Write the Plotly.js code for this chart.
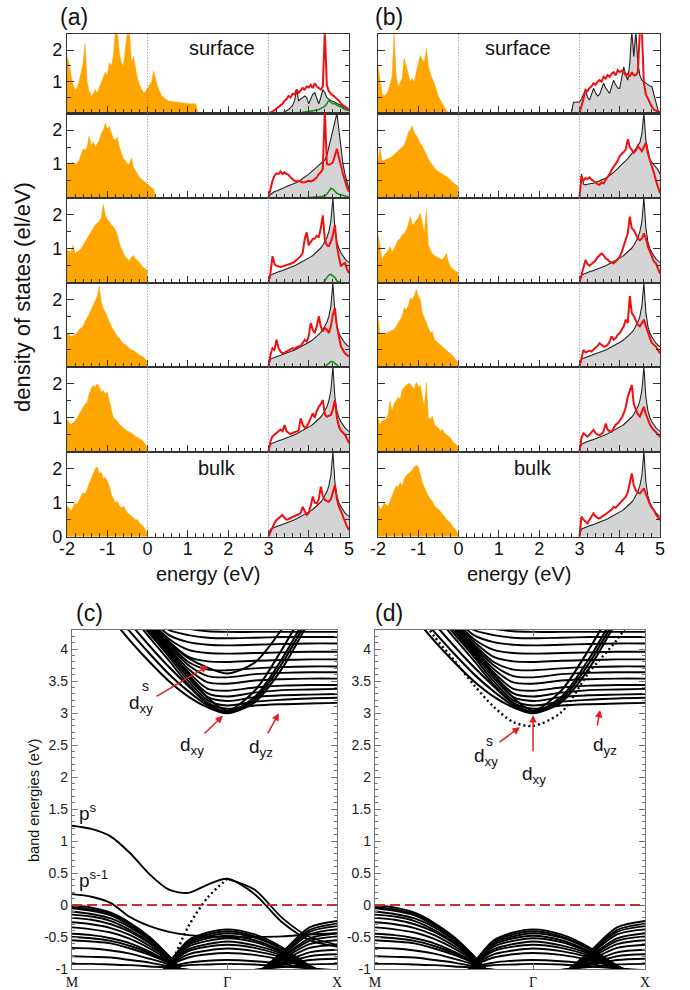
<!DOCTYPE html>
<html><head><meta charset="utf-8">
<script src="https://cdn.plot.ly/plotly-3.0.1.min.js"></script>
<style>html,body{margin:0;padding:0;background:#fff}#chart{width:690px;height:990px}</style>
</head><body><div id="chart"></div>
<script>
// ================= DATA =================
function grid(a,b,s){const n=Math.round((b-a)/s);return Array.from({length:n+1},(_,i)=>+(a+i*s).toFixed(3));}
const eVal   = grid(-2,0,0.05);     // valence grid
const eValA1 = grid(-2,1.25,0.05);  // (a) surface valence grid
const eValA2 = grid(-2,0.2,0.05);   // (a) S-1 valence grid
const eCond  = grid(3,5,0.05);      // conduction grid
const eCondB1= grid(2.8,5,0.05);    // (b) surface conduction grid
const gapEdges = [0,3];
const energyTicks = [-2,-1,0,1,2,3,4,5];

// ---- (a) orange valence DOS ----
const orangeA1=[1.8,1.6,1.2,0.9,0.75,0.8,1.0,1.3,1.6,2.2,
 1.0,0.7,0.55,0.6,0.75,0.65,0.8,1.0,1.1,1.3,
 1.2,1.6,1.5,1.8,2.6,2.6,1.9,1.6,1.5,2.0,
 2.6,2.6,1.6,1.8,1.4,1.1,0.9,0.75,0.65,0.7,
 0.8,0.9,1.0,1.35,1.1,0.85,0.7,0.55,0.5,0.45,
 0.4,0.38,0.37,0.36,0.35,0.34,0.33,0.32,0.32,0.31,
 0.31,0.3,0.3,0.3,0.3,0];
const orangeA2=[1.0,1.03,1.0,1.05,1.0,1.02,1.1,1.25,1.45,1.4,
 1.5,1.83,1.55,1.65,1.5,1.6,1.7,1.9,2.0,2.2,
 2.05,2.1,1.9,1.75,1.7,1.8,1.5,1.3,1.15,1.1,
 1.0,1.0,1.18,0.9,0.8,0.7,0.6,0.55,0.5,0.45,
 0.4,0.35,0.3,0.25,0];
const orangeA3=[0.95,0.92,0.9,1.1,0.85,0.9,0.95,1.0,1.1,1.2,
 1.3,1.4,1.5,1.6,1.7,1.75,1.8,1.9,2.3,2.0,
 1.85,1.8,1.7,1.65,1.55,1.4,1.15,1.0,0.85,0.75,
 0.7,0.65,0.75,0.8,0.7,0.65,0.6,0.5,0.45,0.4,
 0.35];
const orangeA4=[1.0,0.95,0.9,0.92,0.95,1.0,1.1,1.15,1.2,1.35,
 1.45,1.55,1.7,1.85,2.0,2.1,2.4,1.9,1.75,1.6,
 1.45,1.3,1.2,1.1,1.0,0.9,0.85,0.75,0.7,0.65,
 0.6,0.55,0.5,0.48,0.45,0.4,0.35,0.32,0.28,0.22,
 0.15];
const orangeA5=[0.95,0.85,0.8,0.85,0.9,1.0,1.1,1.2,1.3,1.4,
 1.45,1.7,1.85,1.95,1.9,2.0,1.9,1.75,1.8,1.7,
 1.75,1.5,1.2,1.0,0.95,0.9,0.8,0.75,0.7,0.65,
 0.6,0.58,0.55,0.5,0.45,0.42,0.4,0.35,0.3,0.2,
 0.1];
const orangeA6=[0.9,0.85,0.75,0.9,1.0,0.95,1.1,1.2,1.3,1.25,
 1.4,1.55,1.7,1.85,2.0,2.05,1.85,1.9,1.7,1.75,
 1.6,1.5,1.25,1.1,1.0,1.05,0.9,0.85,0.9,0.8,
 0.7,0.65,0.6,0.55,0.5,0.5,0.4,0.35,0.3,0.2,
 0.05];
// ---- (b) orange valence DOS ----
const orangeB1=[1.5,1.1,0.63,0.55,0.6,0.7,0.9,1.16,2.5,1.2,
 0.84,0.95,1.1,1.74,1.47,1.3,1.0,1.1,1.0,1.3,
 1.58,1.84,1.7,1.6,2.05,1.5,1.25,1.1,0.95,0.75,
 0.53,0.4,0.3,0.18,0.08,0.03,0,0,0,0,
 0];
const orangeB2=[1.03,1.5,1.08,1.1,1.12,1.15,1.18,1.22,1.28,1.33,
 1.38,1.45,1.5,1.55,1.7,1.93,2.0,2.13,1.9,1.85,
 1.73,1.6,1.53,1.4,1.25,1.15,1.05,0.95,0.88,0.82,
 0.77,0.73,0.7,0.66,0.63,0.58,0.52,0.46,0.42,0.36,
 0.33];
const orangeB3=[1.45,1.0,0.67,0.8,0.86,0.95,1.06,0.9,1.0,1.15,
 1.25,1.3,1.4,1.45,1.55,1.7,1.94,1.7,1.75,1.84,
 1.9,2.04,1.7,1.45,2.14,1.1,0.96,0.85,0.8,0.76,
 0.72,0.7,0.67,0.75,0.86,0.6,0.47,0.4,0.35,0.32,
 0.3];
const orangeB4=[1.5,1.0,0.95,0.98,1.0,1.02,1.05,1.08,1.1,1.2,
 1.3,1.4,1.5,1.75,1.7,1.8,2.05,2.0,2.1,2.3,
 2.1,2.0,1.6,1.45,1.3,1.15,1.0,1.05,0.8,0.75,
 0.7,0.65,0.6,0.55,0.5,0.45,0.4,0.33,0.25,0.18,
 0.1];
const orangeB5=[1.0,0.8,0.9,0.95,0.95,1.1,1.5,1.2,1.4,1.5,
 1.6,1.55,1.8,1.9,1.95,2.0,2.0,1.9,1.85,2.05,
 1.9,1.95,1.6,1.3,2.03,1.0,0.95,1.05,0.8,0.75,
 0.7,0.6,0.65,0.55,0.5,0.45,0.4,0.3,0.25,0.2,
 0.1];
const orangeB6=[1.0,0.8,0.85,1.0,0.95,0.9,1.05,1.2,1.35,1.5,
 1.45,1.6,1.5,1.7,1.8,1.85,1.9,1.95,2.05,2.1,
 2.05,1.8,1.6,1.45,1.3,1.2,1.1,1.05,0.9,0.85,
 0.8,0.75,0.65,0.6,0.5,0.45,0.4,0.3,0.25,0.15,
 0.05];

// ---- black (grey-filled) conduction DOS ----
const blackA1=[0,0,0,0,0,0,0,0.02,0.05,0.08,
 0.12,0.18,0.25,0.4,0.75,0.4,0.45,0.5,0.55,0.5,
 0.3,0.45,0.6,0.65,0.5,0.3,0.5,0.75,0.65,0.5,
 0.45,0.4,0.38,0.35,0.3,0.28,0.25,0.2,0.18,0.15,
 0.12];
const blackA2=[0.05,0.1,0.15,0.18,0.2,0.22,0.25,0.28,0.3,0.33,
 0.35,0.38,0.4,0.43,0.45,0.48,0.52,0.56,0.6,0.65,
 0.7,0.75,0.8,0.85,0.9,0.95,1.0,1.05,1.12,1.25,
 1.5,1.75,2.0,2.3,2.5,2.0,1.4,1.0,0.7,0.45,
 0.25];
const blackBulk=[0,0.22,0.25,0.28,0.3,0.32,0.34,0.36,0.38,0.4,
 0.43,0.45,0.48,0.5,0.53,0.56,0.6,0.63,0.66,0.69,
 0.72,0.76,0.8,0.85,0.9,0.95,1.02,1.1,1.2,1.32,
 1.5,1.8,2.5,1.6,1.2,1.0,0.88,0.78,0.7,0.64,
 0.6];
const blackB1=[0,0.35,0.35,0.35,
 0.36,0.45,0.6,0.74,0.5,0.42,0.6,0.79,0.65,0.55,
 0.6,0.8,0.95,0.8,0.7,0.63,0.85,1.05,0.9,0.8,
 0.79,1.1,1.47,1.2,1.05,1.6,2.6,1.8,2.6,1.6,
 1.2,1.05,1.0,0.95,0.9,0.86,0.84,0.6,0.4,0.1,
 0];
const blackB2=[0,0.7,0.4,0.38,0.4,0.42,0.42,0.43,0.45,0.47,
 0.5,0.52,0.55,0.58,0.63,0.66,0.7,0.75,0.8,0.86,
 0.93,0.98,1.03,1.1,1.16,1.23,1.3,1.38,1.45,1.55,
 1.63,1.9,2.5,1.7,1.4,1.13,1.05,0.98,0.9,0.83,
 0.7];

// ---- red conduction DOS ----
const redA1=[0,0.02,0.05,0.1,0.15,0.2,0.25,0.3,0.4,0.45,
 0.55,0.5,0.62,0.6,0.75,0.65,0.72,0.8,0.75,0.85,
 0.82,0.9,0.8,0.95,0.85,0.8,0.75,0.85,2.6,0.9,
 0.7,0.62,0.58,0.52,0.45,0.4,0.3,0.25,0.2,0.15,
 0.12];
const redA2=[0,0.3,0.5,0.65,0.72,0.7,0.78,0.7,0.75,0.7,
 0.68,0.6,0.55,0.5,0.48,0.5,0.48,0.45,0.46,0.48,
 0.5,0.48,0.5,0.55,0.6,0.7,0.75,0.85,2.6,1.0,
 0.98,1.0,1.05,1.25,1.45,1.2,0.9,0.7,0.5,0.3,
 0.18];
const redA3=[0,0.28,0.78,0.55,0.5,0.48,0.46,0.48,0.5,0.52,
 0.53,0.55,0.58,0.62,0.68,0.72,0.78,0.88,1.28,1.48,
 1.1,1.2,1.28,1.3,1.38,1.35,1.6,1.98,1.28,1.1,
 1.08,1.2,1.4,1.7,1.08,0.75,0.48,0.55,0.58,0.4,
 0.28];
const redA4=[0,0.35,0.55,0.5,0.8,0.55,0.45,0.4,0.42,0.45,
 0.48,0.5,0.55,0.52,0.58,0.6,0.62,0.7,0.8,0.75,
 0.9,1.3,1.1,1.0,1.2,1.5,1.2,1.05,1.15,1.1,
 1.0,1.2,1.55,1.75,1.2,0.9,0.6,0.5,0.4,0.35,
 0.3];
const redA5=[0,0.3,0.45,0.5,0.55,0.62,0.65,0.6,0.78,0.6,
 0.55,0.52,0.55,0.58,0.6,0.62,0.98,0.8,0.7,0.74,
 0.85,1.0,1.13,1.0,1.2,1.32,1.4,1.52,1.1,1.03,
 1.05,1.08,1.25,1.52,1.0,0.74,0.62,0.55,0.5,0.38,
 0.25];
const redA6=[0,0.15,0.3,0.4,0.49,0.55,0.6,0.64,0.55,0.5,
 0.52,0.55,0.58,0.6,0.62,0.65,0.69,0.88,0.75,0.64,
 0.7,0.9,1.18,1.0,0.98,1.1,1.47,1.2,1.08,1.05,
 1.03,1.1,1.3,1.52,1.1,0.88,0.75,0.59,0.45,0.3,
 0.2];
const redB1=[0,0.21,0.45,0.74,0.7,0.8,0.85,0.95,0.9,1.0,
 1.05,1.0,1.15,1.1,1.21,1.15,1.25,1.3,1.2,1.37,
 1.3,1.35,1.3,1.2,1.25,1.16,1.3,1.2,1.21,1.3,
 2.6,2.6,0.95,0.6,0.45,0.32,0.2,0.12,0.08,0.05,
 0.03];
const redB2=[0,0.63,0.5,0.58,0.55,0.6,0.53,0.5,0.45,0.4,
 0.38,0.45,0.42,0.53,0.6,0.7,0.83,0.9,1.0,1.1,
 1.23,1.3,1.35,1.43,1.73,1.5,1.4,1.33,1.4,1.53,
 1.45,1.38,1.5,1.63,1.3,1.13,0.95,0.73,0.5,0.3,
 0.13];
const redB3=[0,0.27,0.45,0.67,0.55,0.5,0.55,0.6,0.65,0.75,
 0.8,0.86,0.8,0.72,0.68,0.62,0.6,0.57,0.62,0.7,
 0.76,0.9,1.1,1.3,1.45,1.94,1.6,1.55,1.4,1.3,
 1.25,1.3,1.45,1.3,1.06,0.9,0.75,0.62,0.57,0.4,
 0.27];
const redB4=[0,0.3,0.5,0.42,0.45,0.48,0.45,0.5,0.55,0.62,
 0.7,0.65,0.6,0.6,0.65,0.75,0.9,0.8,0.85,0.95,
 1.0,1.1,1.2,1.4,1.3,2.1,1.6,1.5,1.35,1.25,
 1.2,1.3,1.4,1.2,1.0,0.85,0.7,0.65,0.6,0.5,
 0.4];
const redB5=[0,0.4,0.54,0.5,0.44,0.5,0.58,0.64,0.55,0.5,
 0.49,0.52,0.6,0.83,0.65,0.6,0.59,0.7,0.8,0.83,
 0.9,1.0,1.13,1.3,1.62,1.8,1.96,1.4,1.23,1.1,
 1.03,1.15,1.32,1.1,0.93,0.8,0.7,0.64,0.55,0.5,
 0.44];
const redB6=[0,0.59,0.5,0.45,0.39,0.5,0.6,0.69,0.6,0.55,
 0.54,0.58,0.62,0.65,0.69,0.75,0.8,0.88,0.85,0.92,
 0.98,1.05,1.1,1.18,1.3,1.6,1.86,1.5,1.37,1.3,
 1.27,1.35,1.42,1.25,1.08,0.95,0.85,0.78,0.65,0.55,
 0.49];
// ---- green conduction DOS (panel a) ----
const greenA1=[null,null,null,null,null,null,null,null,null,null,
 null,0,0.01,0.01,0.02,0.02,0.02,0.03,0.03,0.03,
 0.04,0.05,0.06,0.08,0.1,0.12,0.15,0.18,0.22,0.3,
 0.42,0.35,0.3,0.3,0.25,0.22,0.2,0.15,0.12,0.1,
 0.1];
const greenA2=[null,null,null,null,null,null,null,null,null,null,
 null,null,null,null,null,null,null,null,null,0,
 0.01,0.01,0.02,0.02,0.02,0.03,0.03,0.04,0.05,0.1,
 0.2,0.28,0.25,0.18,0.13,0.1,0.08,0.06,0.05,0.03,
 0.02];
const greenA3=[null,null,null,null,null,null,null,null,null,null,
 null,null,null,null,null,null,null,null,null,null,
 null,null,null,null,null,null,null,0,0.05,0.15,
 0.22,0.25,0.2,0.15,0.05,0.02,0,null,null,null,
 null];
const greenA4=[null,null,null,null,null,null,null,null,null,null,
 null,null,null,null,null,null,null,null,null,null,
 null,null,null,null,null,null,null,null,0,0.05,
 0.1,0.15,0.15,0.1,0.03,0,null,null,null,null,
 null];

// ================= BAND STRUCTURE DATA =================
const kPath=[0,0.177,0.354,0.530,0.707,0.884,1.061,1.237,1.414,1.664,1.914,2.164,2.414];
const kLabels=['M','\u0393','X'];
const kLabelIdx=[0,8,12];
const bandTicks=[-1,-0.5,0,0.5,1,1.5,2,2.5,3,3.5,4];
const fermiLevel=[0];
// conduction: dxy bundle
const dxyBundle=[
 [5.3,4.9,4.5,4.13,3.8,3.5,3.26,3.09,3.0,3.17,3.7,4.45,5.2],
 [5.4,5.0,4.62,4.27,3.93,3.61,3.34,3.12,3.01,3.21,3.78,4.52,5.25],
 [5.5,5.1,4.75,4.4,4.05,3.72,3.42,3.15,3.02,3.25,3.85,4.6,5.3],
 [5.8,5.4,5.0,4.65,4.3,3.95,3.6,3.24,3.04,3.35,4.0,4.75,5.5]];
// conduction: dyz/dxz subbands
const dyzBands=[
 [5.7,5.3,4.9,4.55,4.18,3.82,3.45,3.16,3.07,3.12,3.14,3.15,3.16],
 [5.75,5.35,4.95,4.6,4.24,3.88,3.5,3.2,3.12,3.18,3.21,3.23,3.24],
 [5.8,5.4,5.0,4.64,4.28,3.92,3.55,3.25,3.19,3.25,3.28,3.29,3.30],
 [5.85,5.45,5.05,4.68,4.32,3.96,3.6,3.31,3.26,3.32,3.36,3.37,3.38],
 [5.85,5.45,5.05,4.7,4.34,3.99,3.64,3.38,3.35,3.4,3.43,3.44,3.44],
 [5.87,5.47,5.08,4.72,4.36,4.02,3.69,3.48,3.46,3.51,3.53,3.54,3.54],
 [5.9,5.5,5.1,4.74,4.38,4.05,3.75,3.58,3.56,3.61,3.63,3.64,3.64],
 [5.9,5.5,5.12,4.76,4.4,4.08,3.8,3.68,3.67,3.7,3.72,3.73,3.73],
 [5.9,5.5,5.14,4.78,4.43,4.12,3.88,3.81,3.8,3.82,3.83,3.84,3.84],
 [5.9,5.5,5.16,4.8,4.46,4.16,3.99,3.94,3.93,3.94,3.95,3.96,3.96],
 [5.9,5.5,5.18,4.83,4.5,4.22,4.11,4.07,4.06,4.07,4.08,4.09,4.09],
 [5.9,5.5,5.2,4.86,4.54,4.3,4.22,4.18,4.17,4.18,4.19,4.19,4.19],
 [5.9,5.5,5.2,4.9,4.6,4.4,4.32,4.28,4.27,4.27,4.27,4.27,4.27]];
const dxySurfC=[6.0,5.5,5.1,4.73,4.4,4.1,3.86,3.71,3.62,3.79,4.32,5.05,5.8];
const dxySurfD=[5.3,5.0,4.65,4.2,3.83,3.44,3.1,2.86,2.8,3.01,3.64,4.15,4.8];
// valence: bands of the dome at M
const valDomeM=[
 [0,-0.04,-0.12,-0.28,-0.5,-0.8,-1.15,-1.5,null,null,null,null,null],
 [-0.03,-0.07,-0.14,-0.3,-0.52,-0.8,-1.15,-1.49,null,null,null,null,null],
 [-0.05,-0.09,-0.16,-0.32,-0.53,-0.81,-1.14,-1.48,null,null,null,null,null],
 [-0.1,-0.14,-0.21,-0.35,-0.55,-0.82,-1.14,-1.45,null,null,null,null,null],
 [-0.15,-0.18,-0.25,-0.39,-0.58,-0.83,-1.13,-1.43,null,null,null,null,null],
 [-0.2,-0.23,-0.3,-0.42,-0.6,-0.84,-1.12,-1.4,null,null,null,null,null],
 [-0.27,-0.3,-0.36,-0.47,-0.64,-0.85,-1.11,-1.37,null,null,null,null,null],
 [-0.35,-0.38,-0.43,-0.53,-0.68,-0.87,-1.1,-1.33,null,null,null,null,null],
 [-0.45,-0.47,-0.52,-0.6,-0.73,-0.89,-1.08,-1.28,null,null,null,null,null],
 [-0.5,-0.52,-0.56,-0.64,-0.75,-0.9,-1.08,-1.25,null,null,null,null,null],
 [-0.55,-0.57,-0.6,-0.68,-0.78,-0.91,-1.07,-1.23,null,null,null,null,null],
 [-0.67,-0.68,-0.71,-0.76,-0.84,-0.93,-1.05,-1.17,null,null,null,null,null],
 [-0.8,-0.81,-0.82,-0.86,-0.9,-0.96,-1.03,-1.1,null,null,null,null,null],
 [-0.92,-0.92,-0.93,-0.94,-0.96,-0.98,-1.01,-1.04,null,null,null,null,null]];
// valence: bands of the dome at Gamma
const valDomeG=[
 [null,null,null,null,-1.3,-0.9,-0.55,-0.43,-0.38,-0.46,-0.66,-0.95,-1.15],
 [null,null,null,null,-1.3,-0.91,-0.57,-0.46,-0.41,-0.49,-0.68,-0.95,-1.14],
 [null,null,null,null,-1.3,-0.91,-0.59,-0.49,-0.44,-0.51,-0.69,-0.96,-1.14],
 [null,null,null,null,-1.3,-0.92,-0.62,-0.52,-0.48,-0.55,-0.72,-0.96,-1.13],
 [null,null,null,null,-1.3,-0.92,-0.65,-0.56,-0.52,-0.58,-0.74,-0.96,-1.12],
 [null,null,null,null,-1.3,-0.93,-0.69,-0.61,-0.57,-0.63,-0.76,-0.97,-1.1],
 [null,null,null,null,-1.3,-0.94,-0.72,-0.65,-0.62,-0.67,-0.79,-0.97,-1.09],
 [null,null,null,null,-1.3,-0.95,-0.77,-0.71,-0.68,-0.72,-0.82,-0.97,-1.08],
 [null,null,null,null,-1.3,-0.96,-0.82,-0.77,-0.75,-0.78,-0.86,-0.98,-1.06],
 [null,null,null,null,-1.3,-0.98,-0.9,-0.87,-0.86,-0.88,-0.92,-0.99,-1.03],
 [null,null,null,null,-1.3,-0.99,-0.94,-0.93,-0.92,-0.93,-0.96,-0.99,-1.02]];
// valence: bands of the dome at X
const valDomeX=[
 [null,null,null,null,null,null,null,null,null,-1.1,-0.74,-0.35,-0.25],
 [null,null,null,null,null,null,null,null,null,-1.1,-0.75,-0.39,-0.29],
 [null,null,null,null,null,null,null,null,null,-1.09,-0.77,-0.42,-0.33],
 [null,null,null,null,null,null,null,null,null,-1.08,-0.79,-0.46,-0.38],
 [null,null,null,null,null,null,null,null,null,-1.08,-0.81,-0.52,-0.44],
 [null,null,null,null,null,null,null,null,null,-1.07,-0.82,-0.56,-0.49],
 [null,null,null,null,null,null,null,null,null,-1.06,-0.84,-0.61,-0.55],
 [null,null,null,null,null,null,null,null,null,-1.05,-0.87,-0.67,-0.62],
 [null,null,null,null,null,null,null,null,null,-1.04,-0.9,-0.74,-0.7],
 [null,null,null,null,null,null,null,null,null,-1.03,-0.92,-0.8,-0.77],
 [null,null,null,null,null,null,null,null,null,-1.02,-0.94,-0.86,-0.84],
 [null,null,null,null,null,null,null,null,null,-1.01,-0.97,-0.93,-0.92]];
// surface valence bands (panel c)
const pSurf   =[1.24,1.19,1.07,0.81,0.48,0.24,0.19,0.32,0.41,0.17,-0.27,-0.55,-0.65];
const pSurf1  =[0.17,0.13,0.03,-0.19,-0.33,-0.42,-0.47,-0.49,-0.5,-0.5,-0.49,-0.46,-0.44];
const pSurfB  =[null,null,null,null,null,null,null,null,0.41,0.24,-0.2,-0.5,-0.62];
const pDotted =[null,null,null,null,-1.6,-1.0,-0.33,0.12,0.41,null,null,null,null];

// ================= BUILD =================
const W=690,H=990;
const px=p=>p/W, py=p=>1-p/H;
const rowPx=[[34.3,113.3],[113.3,197.7],[197.7,282.7],[282.7,366.7],[366.7,451.7],[451.7,536.7]];
const colPx=[[67,349],[378,660]];
const ORANGE='#ffa500', GREY='#d4d4d4', RED='#f01010', GREEN='#1d8f1d', FRAME='#333';

const dosPanels=[
 [ {vx:eValA1,vy:orangeA1,bx:eCond,by:blackA1,red:redA1,green:greenA1},
   {vx:eValA2,vy:orangeA2,bx:eCond,by:blackA2,red:redA2,green:greenA2},
   {vx:eVal,vy:orangeA3,bx:eCond,by:blackBulk,red:redA3,green:greenA3},
   {vx:eVal,vy:orangeA4,bx:eCond,by:blackBulk,red:redA4,green:greenA4},
   {vx:eVal,vy:orangeA5,bx:eCond,by:blackBulk,red:redA5},
   {vx:eVal,vy:orangeA6,bx:eCond,by:blackBulk,red:redA6} ],
 [ {vx:eVal,vy:orangeB1,bx:eCondB1,by:blackB1,red:redB1},
   {vx:eVal,vy:orangeB2,bx:eCond,by:blackB2,red:redB2},
   {vx:eVal,vy:orangeB3,bx:eCond,by:blackBulk,red:redB3},
   {vx:eVal,vy:orangeB4,bx:eCond,by:blackBulk,red:redB4},
   {vx:eVal,vy:orangeB5,bx:eCond,by:blackBulk,red:redB5},
   {vx:eVal,vy:orangeB6,bx:eCond,by:blackBulk,red:redB6} ]
];

const traces=[], shapes=[], annotations=[];
const layout={width:W,height:H,margin:{l:0,r:0,t:0,b:0},paper_bgcolor:'#fff',plot_bgcolor:'rgba(0,0,0,0)',
  showlegend:false,font:{family:'Liberation Sans, Arial, sans-serif',color:'#111'}};
const ax=n=>n===1?'':String(n);

dosPanels.forEach((col,c)=>{
  col.forEach((d,r)=>{
    const n=c*6+r+1, s=ax(n);
    const xa='x'+s, ya='y'+s;
    traces.push({x:d.vx,y:d.vy,xaxis:xa,yaxis:ya,mode:'lines',fill:'tozeroy',fillcolor:ORANGE,
      line:{color:ORANGE,width:0.5},hoverinfo:'skip'});
    traces.push({x:d.bx,y:d.by,xaxis:xa,yaxis:ya,mode:'lines',fill:'tozeroy',fillcolor:GREY,
      line:{color:'#222',width:1.1},hoverinfo:'skip'});
    if(d.green) traces.push({x:eCond,y:d.green,xaxis:xa,yaxis:ya,mode:'lines',
      line:{color:GREEN,width:1.6},connectgaps:false,hoverinfo:'skip'});
    traces.push({x:eCond,y:d.red,xaxis:xa,yaxis:ya,mode:'lines',line:{color:RED,width:2},hoverinfo:'skip'});
    const bottom=(r===5);
    layout['xaxis'+s]={domain:[px(colPx[c][0]),px(colPx[c][1])],anchor:ya,range:[-2,5],
      showline:true,mirror:true,linecolor:FRAME,linewidth:1.2,showgrid:false,zeroline:false,
      ticks:'inside',ticklen:7,tickwidth:1,tickcolor:FRAME,tickmode:'array',tickvals:energyTicks,
      ticktext:energyTicks.map(String),showticklabels:bottom,tickfont:{size:18,color:'#111'},
      ticklabelstandoff:-5,
      minor:{dtick:0.2,tick0:0,ticks:'inside',ticklen:4,tickcolor:FRAME,tickwidth:1}};
    const yv=bottom?[0,1,2]:[1,2];
    layout['yaxis'+s]={domain:[py(rowPx[r][1]),py(rowPx[r][0])],anchor:xa,range:[0,2.5],
      showline:true,mirror:'ticks',linecolor:FRAME,linewidth:1.2,showgrid:false,zeroline:false,
      ticks:'inside',ticklen:7,tickwidth:1,tickcolor:FRAME,tickmode:'array',tickvals:yv,ticktext:yv.map(String),
      showticklabels:(c===0),tickfont:{size:18,color:'#111'},
      minor:{tickmode:'array',tickvals:[0.5,1.5],ticks:'inside',ticklen:4,tickcolor:FRAME,tickwidth:1}};
    gapEdges.forEach(v=>shapes.push({type:'line',xref:xa,yref:ya+' domain',x0:v,x1:v,y0:0,y1:1,
      line:{color:'#7a7ab8',width:1,dash:'1px,2px'}}));
  });
});

// band structure panels
const bandPanels=[
  {n:13, xpx:[72,337], surfC:dxySurfC, surfDot:false, withSurfaceP:true},
  {n:14, xpx:[375,645], surfC:dxySurfD, surfDot:true, withSurfaceP:false}
];
function bandTrace(n,ys,w,dash){
  return {x:kPath,y:ys,xaxis:'x'+n,yaxis:'y'+n,mode:'lines',connectgaps:false,hoverinfo:'skip',
    line:{color:'#000',width:w||1.5,shape:'spline',smoothing:0.8,dash:dash||'solid'}};
}
bandPanels.forEach(p=>{
  const n=p.n;
  valDomeM.forEach(b=>traces.push(bandTrace(n,b,1.9)));
  valDomeG.forEach(b=>traces.push(bandTrace(n,b,1.9)));
  valDomeX.forEach(b=>traces.push(bandTrace(n,b,1.9)));
  dyzBands.forEach(b=>traces.push(bandTrace(n,b,1.9)));
  dxyBundle.forEach(b=>traces.push(bandTrace(n,b,2.1)));
  traces.push(bandTrace(n,p.surfC,p.surfDot?2.4:1.9,p.surfDot?'2px,3px':'solid'));
  if(p.withSurfaceP){
    traces.push(bandTrace(n,pSurf,1.9));
    traces.push(bandTrace(n,pSurf1,1.9));
    traces.push(bandTrace(n,pSurfB,1.8));
    traces.push(bandTrace(n,pDotted,2.4,'2px,3px'));
  }
  layout['xaxis'+n]={domain:[px(p.xpx[0]),px(p.xpx[1])],anchor:'y'+n,range:[0,kPath[kPath.length-1]],
    showline:true,mirror:'ticks',linecolor:'#777',linewidth:1.2,showgrid:false,zeroline:false,
    ticks:'inside',ticklen:6,tickcolor:'#777',tickmode:'array',tickvals:kLabelIdx.map(i=>kPath[i]),ticktext:kLabels,
    tickfont:{family:'Liberation Serif, DejaVu Serif, serif',size:14,color:'#111'}};
  layout['yaxis'+n]={domain:[py(969),py(630)],anchor:'x'+n,range:[-1,4.3],
    showline:true,mirror:'ticks',linecolor:'#777',linewidth:1.2,showgrid:false,zeroline:false,
    ticks:'inside',ticklen:6,tickcolor:'#777',tickmode:'array',tickvals:bandTicks,ticktext:bandTicks.map(String),
    tickfont:{size:14,color:'#222'},
    minor:{dtick:0.1,tick0:0,ticks:'inside',ticklen:3,tickcolor:'#777'}};
  fermiLevel.forEach(e=>shapes.push({type:'line',xref:'x'+n+' domain',yref:'y'+n,x0:0,x1:1,y0:e,y1:e,
    line:{color:'#c8302c',width:2,dash:'10px,5px'}}));
});

// ---- text ----
function ann(t,x,y,size,extra){annotations.push(Object.assign({text:t,x:x,y:y,xref:'paper',yref:'paper',
  showarrow:false,xanchor:'center',yanchor:'middle',font:{size:size,color:'#111'}},extra||{}));}
ann('(a)',px(74),py(17),23); ann('(b)',px(389),py(17),23);
ann('(c)',px(89),py(613),23); ann('(d)',px(389),py(613),23);
ann('surface',px(221.5),py(48),20); ann('surface',px(518),py(48),20);
ann('bulk',px(217),py(468),20); ann('bulk',px(533),py(468),20);
ann('energy (eV)',px(208),py(574),20); ann('energy (eV)',px(519),py(574),20);
ann('density of states (el/eV)',px(22),py(297),22,{textangle:-90});
ann('band energies (eV)',px(34),py(801),14.5,{textangle:-90});

function dl(n,t,k,e,size){annotations.push({text:t,x:k,y:e,xref:'x'+n,yref:'y'+n,showarrow:false,
  xanchor:'center',yanchor:'middle',font:{size:size,color:'#111'}});}
function arrow(n,tk,te,hk,he){annotations.push({text:'',x:hk,y:he,ax:tk,ay:te,xref:'x'+n,yref:'y'+n,
  axref:'x'+n,ayref:'y'+n,showarrow:true,arrowhead:2,arrowsize:1,arrowwidth:1.5,arrowcolor:'#e02020'});}
// panel (c)
dl(13,'d<sub>xy</sub>',0.63,3.15,19); dl(13,'s',0.665,3.42,14);
dl(13,'d<sub>xy</sub>',1.09,2.48,19); dl(13,'d<sub>yz</sub>',1.72,2.45,19);
dl(13,'p<sup>s</sup>',0.15,1.45,19); dl(13,'p<sup>s-1</sup>',0.2,0.41,19);
arrow(13,0.756,3.25,1.239,3.74); arrow(13,1.193,2.66,1.375,2.96); arrow(13,1.776,2.66,1.885,3.0);
// panel (d)
dl(14,'d<sub>xy</sub>',0.99,2.31,19); dl(14,'s',1.028,2.56,14);
dl(14,'d<sub>xy</sub>',1.42,2.04,19); dl(14,'d<sub>yz</sub>',2.06,2.48,19);
arrow(14,1.1,2.53,1.296,2.78); arrow(14,1.413,2.38,1.413,2.97); arrow(14,1.985,2.78,2.012,3.05);

layout.shapes=shapes; layout.annotations=annotations;
Plotly.newPlot('chart',traces,layout,{staticPlot:true,displayModeBar:false});
</script></body></html>
